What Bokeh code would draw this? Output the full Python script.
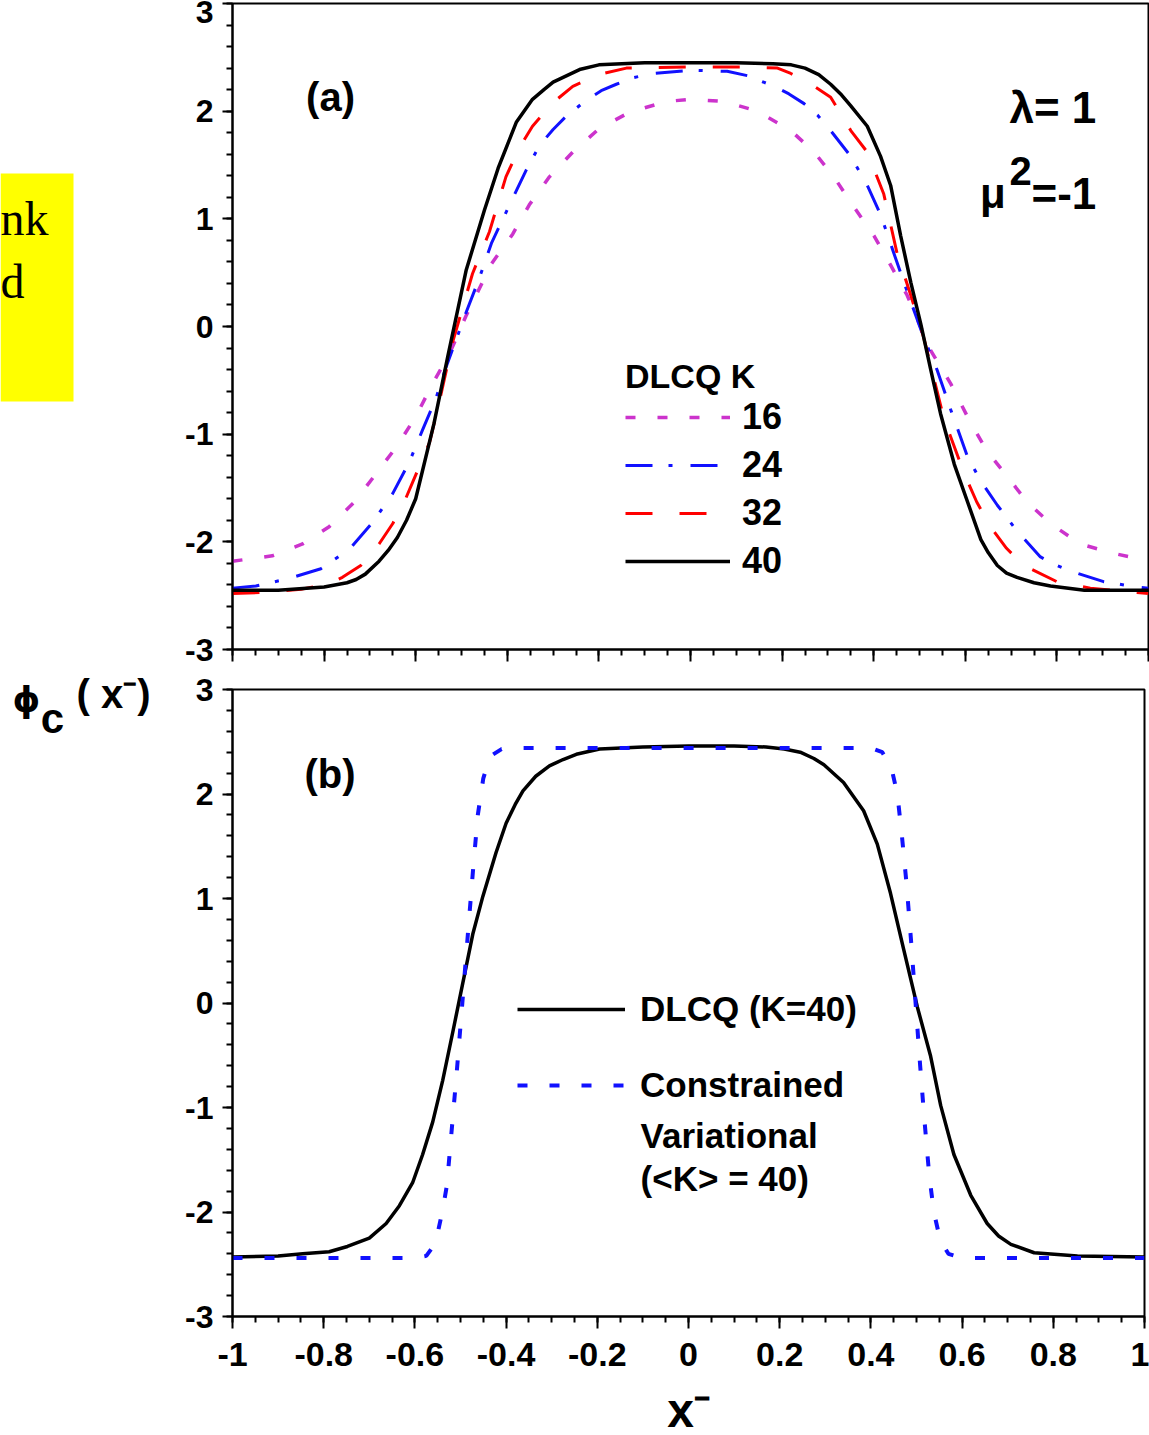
import numpy as np
from bokeh.plotting import figure
from bokeh.models import (FixedTicker, Label, Legend, LegendItem, Range1d,
                          CustomJSTickFormatter, CustomLabelingPolicy, BoxAnnotation)
from bokeh.layouts import column, row
from bokeh.embed import file_html
from bokeh.resources import INLINE

FONT = "Liberation Sans"

# ---------------- tick labels ----------------
X_TICKS = [-1.0, -0.8, -0.6, -0.4, -0.2, 0.0, 0.2, 0.4, 0.6, 0.8, 1.0]
Y_TICKS = [-3, -2, -1, 0, 1, 2, 3]
K_LABELS = ["16", "24", "32", "40"]

# ---------------- panel (a): DLCQ K = 16, 24, 32, 40 ----------------
X16 = [-1.0, -0.913, -0.847, -0.789, -0.734, -0.687, -0.639, -0.599, -0.563, -0.527,
       -0.49, -0.435, -0.388, -0.352, -0.308, -0.257, -0.199, -0.133, -0.053, 0.0,
       0.074, 0.146, 0.219, 0.27, 0.313, 0.357, 0.401, 0.437, 0.473, 0.524,
       0.568, 0.611, 0.648, 0.691, 0.735, 0.786, 0.851, 0.917, 1.0]
Y16 = [-2.18, -2.13, -2.02, -1.86, -1.63, -1.37, -1.10, -0.83, -0.53, -0.26,
       0.10, 0.58, 0.86, 1.13, 1.39, 1.62, 1.84, 1.99, 2.09, 2.11,
       2.09, 2.00, 1.82, 1.62, 1.39, 1.11, 0.84, 0.57, 0.29, -0.22,
       -0.53, -0.89, -1.16, -1.39, -1.63, -1.83, -2.02, -2.10, -2.18]

X24 = [-1.0, -0.949, -0.876, -0.807, -0.745, -0.694, -0.65, -0.614, -0.585, -0.556,
       -0.534, -0.49, -0.461, -0.434, -0.395, -0.359, -0.33, -0.3, -0.272, -0.228,
       -0.195, -0.162, -0.126, -0.082, 0.0,
       0.08, 0.124, 0.183, 0.215, 0.248, 0.278, 0.306, 0.35, 0.386, 0.415, 0.444, 0.466,
       0.509, 0.539, 0.568, 0.604, 0.633, 0.67, 0.713, 0.764, 0.795, 0.829, 0.902, 0.975, 1.0]
Y24 = [-2.43, -2.41, -2.34, -2.25, -2.07, -1.82, -1.55, -1.26, -0.96, -0.67,
       -0.38, 0.13, 0.45, 0.78, 1.13, 1.45, 1.68, 1.83, 1.95, 2.10,
       2.19, 2.25, 2.31, 2.35, 2.38,
       2.37, 2.33, 2.23, 2.16, 2.07, 1.96, 1.82, 1.58, 1.31, 1.04, 0.68, 0.41,
       -0.10, -0.41, -0.77, -1.20, -1.43, -1.66, -1.90, -2.14, -2.21, -2.27, -2.37, -2.42, -2.43]

X32 = [-1.0, -0.93, -0.85, -0.79, -0.76, -0.72, -0.68, -0.65, -0.621, -0.57, -0.548,
       -0.519, -0.476, -0.439, -0.403, -0.375, -0.345, -0.3, -0.257, -0.2, -0.14, 0.0,
       0.11, 0.19, 0.219, 0.26, 0.306, 0.35, 0.386, 0.422, 0.451, 0.481, 0.509,
       0.553, 0.597, 0.625, 0.655, 0.69, 0.728, 0.8, 0.873, 0.975, 1.0]
Y32 = [-2.48, -2.47, -2.44, -2.39, -2.33, -2.22, -2.02, -1.83, -1.59, -1.08, -0.69,
       -0.14, 0.49, 0.88, 1.39, 1.65, 1.86, 2.08, 2.23, 2.34, 2.40, 2.41,
       2.41, 2.40, 2.35, 2.26, 2.13, 1.82, 1.62, 1.23, 0.68, 0.29, -0.10,
       -0.85, -1.36, -1.63, -1.86, -2.06, -2.22, -2.37, -2.43, -2.47, -2.48]

X40 = [-1.0, -0.9, -0.8, -0.75, -0.73, -0.71, -0.68, -0.66, -0.64, -0.62, -0.6, -0.56,
       -0.53, -0.49, -0.45, -0.42, -0.38, -0.36, -0.345, -0.32, -0.3, -0.27, -0.24,
       -0.2, -0.1, 0.0,
       0.1, 0.18, 0.22, 0.25, 0.28, 0.306, 0.33, 0.35, 0.386, 0.415, 0.437, 0.459, 0.481,
       0.503, 0.525, 0.546, 0.576, 0.605, 0.634, 0.65, 0.67, 0.69, 0.713, 0.75, 0.786,
       0.86, 1.0]
Y40 = [-2.45, -2.45, -2.42, -2.38, -2.35, -2.30, -2.18, -2.08, -1.96, -1.80, -1.60, -0.90,
       -0.28, 0.52, 1.08, 1.47, 1.90, 2.02, 2.11, 2.20, 2.27, 2.33, 2.39,
       2.43, 2.45, 2.45,
       2.45, 2.44, 2.43, 2.40, 2.34, 2.25, 2.15, 2.05, 1.86, 1.58, 1.31, 0.84, 0.41,
       0.02, -0.41, -0.81, -1.28, -1.63, -1.98, -2.10, -2.22, -2.29, -2.33, -2.38, -2.41,
       -2.45, -2.45]

# ---------------- panel (b): DLCQ K=40 vs constrained variational ----------------
XB40 = [-1.0, -0.9, -0.846, -0.788, -0.748, -0.7, -0.663, -0.634, -0.605, -0.583,
        -0.561, -0.539, -0.517, -0.495, -0.473, -0.451, -0.422, -0.4, -0.38, -0.363,
        -0.335, -0.305, -0.275, -0.246, -0.195, -0.1, 0.0,
        0.1, 0.17, 0.21, 0.245, 0.275, 0.297, 0.34, 0.384, 0.414, 0.443, 0.472, 0.502,
        0.531, 0.553, 0.582, 0.619, 0.655, 0.68, 0.707, 0.758, 0.853, 1.0]
YB40 = [-2.43, -2.42, -2.40, -2.38, -2.33, -2.25, -2.11, -1.94, -1.72, -1.45,
        -1.14, -0.74, -0.28, 0.19, 0.66, 1.02, 1.44, 1.72, 1.90, 2.03,
        2.17, 2.27, 2.33, 2.38, 2.43, 2.45, 2.46,
        2.46, 2.45, 2.43, 2.40, 2.34, 2.28, 2.11, 1.84, 1.52, 1.05, 0.51, -0.04,
        -0.51, -0.98, -1.45, -1.84, -2.11, -2.23, -2.31, -2.39, -2.42, -2.43]

XCV = [-1.0, -0.6, -0.575, -0.555, -0.54, -0.53, -0.52, -0.508, -0.496, -0.484,
       -0.472, -0.462, -0.45, -0.435, -0.41, -0.38, 0.0,
       0.4, 0.425, 0.445, 0.458, 0.468, 0.478, 0.488, 0.498, 0.508,
       0.518, 0.528, 0.538, 0.552, 0.57, 0.6, 1.0]
YCV = [-2.44, -2.44, -2.42, -2.30, -2.00, -1.75, -1.25, -0.65, 0.00, 0.65,
       1.30, 1.80, 2.15, 2.36, 2.43, 2.44, 2.44,
       2.44, 2.40, 2.25, 2.00, 1.60, 1.15, 0.60, 0.00, -0.60,
       -1.15, -1.65, -2.00, -2.27, -2.40, -2.44, -2.44]

MAGENTA = "#cc33cc"
BLUE = "#1111ff"
RED = "#ff0000"
BLACK = "#000000"

X_MINOR = [round(v, 2) for v in np.arange(-1.0, 1.0001, 0.05)]
Y_MINOR = [round(v, 1) for v in np.arange(-3.0, 3.0001, 0.2)]

LEFT_W = 175  # width of the strip holding the shared y title and the note box


def make_fig(fw, fh, top, bottom, right):
    p = figure(frame_width=fw, frame_height=fh, x_range=Range1d(-1, 1),
               y_range=Range1d(-3, 3), output_backend="svg", toolbar_location=None,
               min_border_left=232 - LEFT_W, min_border_right=right,
               min_border_top=top, min_border_bottom=bottom)
    p.grid.visible = False
    p.outline_line_color = "black"
    p.outline_line_width = 2
    p.outline_line_alpha = 1
    p.background_fill_color = "white"
    p.border_fill_color = "white"
    fmt = CustomJSTickFormatter(code="return String(Math.round(tick*10)/10);")
    for ax in (p.xaxis[0], p.yaxis[0]):
        ax.axis_line_width = 2
        ax.axis_line_color = "black"
        ax.major_tick_line_width = 2
        ax.minor_tick_line_width = 2
        ax.major_tick_in = 0
        ax.minor_tick_in = 0
        ax.major_label_text_font = FONT
        ax.major_label_text_font_style = "bold"
        ax.major_label_text_color = "black"
        ax.axis_label_text_color = "black"
        ax.formatter = fmt
    p.xaxis[0].ticker = FixedTicker(ticks=X_TICKS, minor_ticks=X_MINOR)
    p.yaxis[0].ticker = FixedTicker(ticks=Y_TICKS, minor_ticks=Y_MINOR)
    p.xaxis[0].major_tick_out = 12
    p.xaxis[0].minor_tick_out = 6
    p.yaxis[0].major_tick_out = 10
    p.yaxis[0].minor_tick_out = 6
    p.yaxis[0].major_label_text_font_size = "32px"
    p.yaxis[0].major_label_standoff = 9
    return p


def txt(p, x, y, s, size, units="data", align="left", baseline="middle",
        font=FONT, style="bold", **kw):
    lab = Label(x=x, y=y, x_units=units, y_units=units, text=s,
                text_font=font, text_font_style=style, text_font_size=size,
                text_align=align, text_baseline=baseline, text_color="black", **kw)
    p.add_layout(lab)
    return lab


def style_legend(leg, size):
    leg.label_text_font = FONT
    leg.label_text_font_style = "bold"
    leg.label_text_font_size = size
    leg.label_text_color = "black"
    leg.padding = 0
    leg.margin = 0
    leg.border_line_color = None
    leg.background_fill_alpha = 0


# ---------------- top panel ----------------
p1 = make_fig(916, 646, 3, 20, 1)
p1.xaxis[0].major_label_text_font_size = "1px"
p1.xaxis[0].major_label_standoff = 0
p1.xaxis[0].major_label_policy = CustomLabelingPolicy(
    code="for (const i of indices) { indices.unset(i) }\nreturn indices")

r16 = p1.line(X16, Y16, line_color=MAGENTA, line_width=3.5, line_dash="10 22")
r24 = p1.line(X24, Y24, line_color=BLUE, line_width=3, line_dash="27 16 4 18")
r32 = p1.line(X32, Y32, line_color=RED, line_width=3, line_dash="27 27")
r40 = p1.line(X40, Y40, line_color=BLACK, line_width=3.5)

leg1 = Legend(items=[LegendItem(label=k, renderers=[r]) for k, r in
                     zip(K_LABELS, [r16, r24, r32, r40])],
              title="DLCQ K", location=(393, 67))
style_legend(leg1, "36px")
leg1.title_text_font = FONT
leg1.title_text_font_style = "bold"
leg1.title_text_font_size = "34px"
leg1.title_text_color = "black"
leg1.title_standoff = 0
leg1.glyph_width = 105
leg1.glyph_height = 40
leg1.label_standoff = 12
leg1.spacing = 6
p1.add_layout(leg1)

txt(p1, -0.786, 2.13, "(a)", "40px", align="center")
txt(p1, 0.886, 2.03, "λ= 1", "44px", align="right")
txt(p1, 0.688, 1.235, "μ", "42px", align="right", baseline="alphabetic")
txt(p1, 0.745, 1.445, "2", "40px", align="right", baseline="alphabetic")
txt(p1, 0.886, 1.235, "=-1", "44px", align="right", baseline="alphabetic")

# ---------------- bottom panel ----------------
p2 = make_fig(912, 627, 20, 119, 5)
p2.xaxis[0].major_label_text_font_size = "34px"
p2.xaxis[0].major_label_standoff = 14
p2.xaxis[0].axis_label = "x⁻"
p2.xaxis[0].axis_label_text_font = FONT
p2.xaxis[0].axis_label_text_font_style = "bold"
p2.xaxis[0].axis_label_text_font_size = "48px"
p2.xaxis[0].axis_label_standoff = 15

rb40 = p2.line(XB40, YB40, line_color=BLACK, line_width=3.5)
rcv = p2.line(XCV, YCV, line_color=BLUE, line_width=4, line_dash="10 22")

leg2 = Legend(items=[LegendItem(label="DLCQ (K=40)", renderers=[rb40]),
                     LegendItem(label="Constrained", renderers=[rcv])],
              location=(285, 211))
style_legend(leg2, "35px")
leg2.glyph_width = 108
leg2.glyph_height = 40
leg2.label_standoff = 15
leg2.spacing = 36
p2.add_layout(leg2)

txt(p2, -0.105, -1.27, "Variational", "35px")
txt(p2, -0.105, -1.675, "(<K> = 40)", "35px")
txt(p2, -0.786, 2.19, "(b)", "40px", align="center")

# ---------------- left strip: note box + shared y title ----------------
pl = figure(width=LEFT_W, height=1435, x_range=Range1d(0, LEFT_W),
            y_range=Range1d(1435, 0), output_backend="svg", toolbar_location=None,
            x_axis_type=None, y_axis_type=None, min_border=0)
pl.outline_line_color = None
pl.background_fill_color = "white"
pl.border_fill_color = "white"
pl.add_layout(BoxAnnotation(left=0, right=73, top=173, bottom=401,
                            fill_color="#ffff00", fill_alpha=1, line_color=None))
txt(pl, 0, 218, "nk", "48px", align="left", baseline="alphabetic",
    font="Liberation Serif", style="normal")
txt(pl, 0, 281, "d", "48px", align="left", baseline="alphabetic",
    font="Liberation Serif", style="normal")
txt(pl, 26, 699, "ϕ", "35px", align="center", font="DejaVu Sans")
txt(pl, 52, 718, "c", "42px", align="center")
txt(pl, 76, 693, "( x⁻)", "40px", align="left")

layout = row(pl, column(p1, p2, spacing=0), spacing=0)
open("out.html", "w").write(file_html(layout, INLINE))
